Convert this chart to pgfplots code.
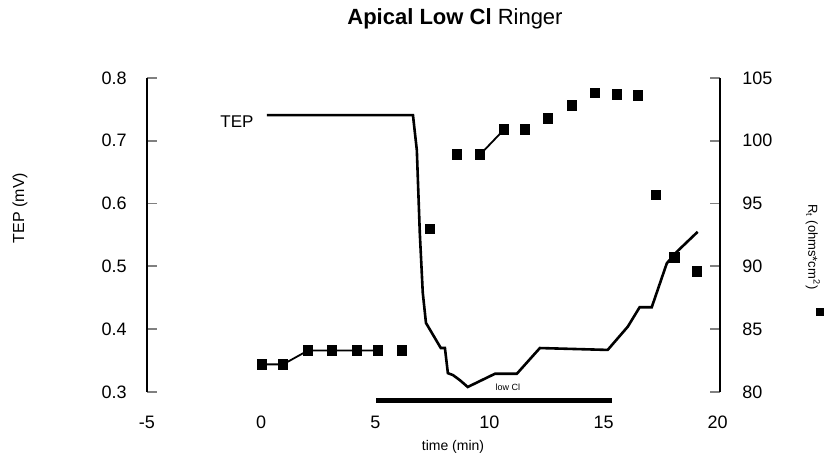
\documentclass[border=0pt]{standalone}
\usepackage{pgfplots}
\pgfplotsset{compat=1.18}
\usepackage{fontspec}
\setmainfont{Liberation Sans}
\pgfplotstableread{
t tep
0.25 0.741
6.65 0.741
6.82 0.685
6.95 0.553
7.08 0.458
7.22 0.410
7.61 0.386
7.87 0.370
8.05 0.370
8.18 0.330
8.40 0.327
8.70 0.319
9.05 0.308
10.24 0.329
11.20 0.329
12.21 0.370
15.18 0.367
16.06 0.404
16.58 0.435
17.11 0.435
17.77 0.505
18.20 0.523
19.12 0.555
}\teptable
\pgfplotstableread{
t r
0.04 82.2
0.96 82.2
2.05 83.3
3.10 83.3
4.20 83.3
5.12 83.3
6.17 83.3
7.40 93.0
8.58 98.9
9.59 98.9
10.64 100.9
11.56 100.9
12.56 101.8
13.62 102.8
14.62 103.8
15.58 103.7
16.51 103.6
17.30 95.7
18.09 90.7
19.09 89.6
}\rtable
\begin{document}
\begin{tikzpicture}
\path[use as bounding box] (0,0) rectangle (415pt,230pt);
\pgfplotsset{
  common/.style={
    at={(73.5pt,34pt)}, anchor=south west,
    scale only axis, width=286.5pt, height=157pt,
    xmin=-5, xmax=20.1, clip=false,
    axis line style={line width=0.9pt},
    tick align=inside, major tick length=5pt,
    ytick style={line width=0.9pt},
  }
}
\begin{axis}[common,
  ymin=0.3, ymax=0.8,
  axis y line*=left, axis x line*=bottom,
  x axis line style={draw=none},
  xtick={-5,0,5,10,15,20},
  xticklabels={-5,0,5,10,15,20},
  xtick style={draw=none},
  x tick label style={anchor=center, inner sep=0pt, yshift=-15pt, font=\fontsize{9}{10}\selectfont},
  ytick={0.3,0.4,0.5,0.6,0.7,0.8},
  yticklabels={0.3,0.4,0.5,0.6,0.7,0.8},
  y tick label style={anchor=east, inner sep=0pt, xshift=-10pt, font=\fontsize{9}{10}\selectfont},
  xlabel={time (min)},
  xlabel style={at={(axis description cs:0.534,-0.175)}, anchor=center, font=\fontsize{7}{8}\selectfont},
  ylabel={TEP (mV)},
  ylabel style={at={(axis description cs:-0.2216,0.586)}, anchor=center, rotate=0, font=\fontsize{8}{9}\selectfont},
  title={\textbf{Apical Low Cl} Ringer},
  title style={at={(axis description cs:0.5375,1.15)}, anchor=center, font=\fontsize{11}{13}\selectfont},
]
\addplot[black, line width=1.3pt] table[x=t, y=tep] {\teptable};
\addplot[black, line width=2.5pt] coordinates {(5.05,0.286) (15.35,0.286)};
\node[font=\fontsize{8.5}{10}\selectfont] at (axis cs:-1.06,0.73) {TEP};
\node[font=\fontsize{4.5}{5}\selectfont] at (axis cs:10.81,0.308) {low Cl};
\end{axis}
\begin{axis}[common,
  ymin=80, ymax=105,
  axis y line*=right, axis x line=none,
  ytick={80,85,90,95,100,105},
  yticklabels={80,85,90,95,100,105},
  y tick label style={anchor=west, inner sep=0pt, xshift=11pt, font=\fontsize{9}{10}\selectfont},
  ylabel={R\textsubscript{t} (ohms*cm\textsuperscript{2})},
  ylabel style={at={(axis description cs:1.162,0.462)}, anchor=center, rotate=180, font=\fontsize{6.5}{7}\selectfont},
  legend style={draw=none, fill=none, at={(1.176,0.255)}, anchor=center, inner sep=0pt, nodes={inner sep=0pt}},
]
\addplot[only marks, mark=square*, mark size=2.4pt, black,
  legend image code/.code={\fill[black] (-1.8pt,-1.8pt) rectangle (1.8pt,1.8pt);}]
  table[x=t, y=r] {\rtable};
\addlegendentry{}
\addplot[black, line width=0.9pt, forget plot] table[x=t, y=r, skip coords between index={6}{20}] {\rtable};
\addplot[black, line width=0.9pt, forget plot] coordinates {(9.59,98.9) (10.64,100.9)};
\end{axis}
\end{tikzpicture}
\end{document}
